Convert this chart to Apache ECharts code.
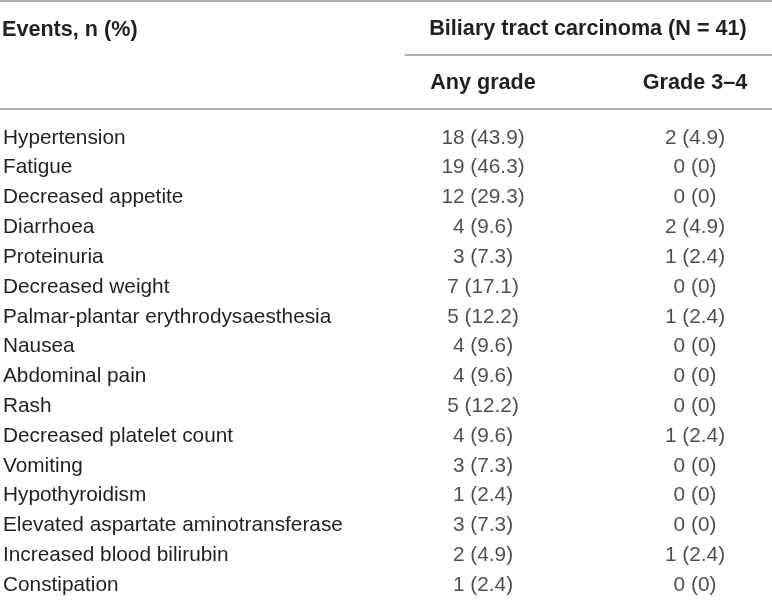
<!DOCTYPE html>
<html>
<head>
<meta charset="utf-8">
<script src="https://cdn.jsdelivr.net/npm/echarts@6/dist/echarts.min.js"></script>
<style>
  html, body { margin: 0; padding: 0; background: #fff; }
  #main { width: 772px; height: 600px; }
</style>
</head>
<body>
<div id="main"></div>
<script>
// table contents
const events = [
  'Hypertension', 'Fatigue', 'Decreased appetite', 'Diarrhoea', 'Proteinuria',
  'Decreased weight', 'Palmar-plantar erythrodysaesthesia', 'Nausea', 'Abdominal pain',
  'Rash', 'Decreased platelet count', 'Vomiting', 'Hypothyroidism',
  'Elevated aspartate aminotransferase', 'Increased blood bilirubin', 'Constipation'
]
const columns = ['Any grade', 'Grade 3–4']
const anyN = [18, 19, 12, 4, 3, 7, 5, 4, 4, 5, 4, 3, 1, 3, 2, 1]
const anyPct = [43.9, 46.3, 29.3, 9.6, 7.3, 17.1, 12.2, 9.6, 9.6, 12.2, 9.6, 7.3, 2.4, 7.3, 4.9, 2.4]
const g34N = [2, 0, 0, 2, 1, 0, 1, 0, 0, 0, 1, 0, 0, 0, 1, 0]
const g34Pct = [4.9, 0, 0, 4.9, 2.4, 0, 2.4, 0, 0, 0, 2.4, 0, 0, 0, 2.4, 0]
const rowHeader = 'Events, n (%)'
const groupHeader = 'Biliary tract carcinoma (N = 41)'

const FONT = '"Liberation Sans", Arial, sans-serif'
const INK = '#231f20'
const RULE = '#929292'
const BODY_SIZE = 20.8
const HEAD_SIZE = 21.6

function cell(n, p) {
  return n + ' (' + (p === 0 ? '0' : p.toFixed(1)) + ')'
}

function columnSeries(colName, ns, ps) {
  return {
    type: 'scatter',
    name: colName,
    symbolSize: 0,
    silent: true,
    data: events.map((e, i) => ({value: [colName, e], text: cell(ns[i], ps[i])})),
    label: {
      show: true,
      position: 'inside',
      formatter: p => p.data.text,
      color: INK,
      fontFamily: FONT,
      fontSize: BODY_SIZE
    }
  }
}

const chart = echarts.init(document.getElementById('main'))
chart.setOption({
  animation: false,
  backgroundColor: '#fff',
  grid: {left: 481, top: 123, width: 214, height: 480},
  xAxis: {
    type: 'category',
    data: columns,
    position: 'top',
    boundaryGap: false,
    axisLine: {show: false},
    axisTick: {show: false},
    splitLine: {show: false},
    axisLabel: {
      margin: 40,
      verticalAlign: 'middle',
      color: INK,
      fontFamily: FONT,
      fontSize: HEAD_SIZE,
      fontWeight: 'bold',
      interval: 0
    }
  },
  yAxis: {
    type: 'category',
    data: events,
    inverse: true,
    axisLine: {show: false},
    axisTick: {show: false},
    splitLine: {show: false},
    axisLabel: {
      align: 'left',
      margin: 480,
      color: INK,
      fontFamily: FONT,
      fontSize: BODY_SIZE,
      interval: 0
    }
  },
  series: [
    columnSeries(columns[0], anyN, anyPct),
    columnSeries(columns[1], g34N, g34Pct)
  ],
  graphic: [
    {type: 'line', shape: {x1: 0, y1: 1, x2: 772, y2: 1}, style: {stroke: RULE, lineWidth: 1.5}},
    {type: 'line', shape: {x1: 405, y1: 55, x2: 772, y2: 55}, style: {stroke: RULE, lineWidth: 1.5}},
    {type: 'line', shape: {x1: 0, y1: 109, x2: 772, y2: 109}, style: {stroke: RULE, lineWidth: 1.5}},
    {
      type: 'text', x: 2, y: 30,
      style: {text: rowHeader, fill: INK, font: 'bold ' + HEAD_SIZE + 'px ' + FONT, textVerticalAlign: 'middle'}
    },
    {
      type: 'text', x: 588, y: 29,
      style: {text: groupHeader, fill: INK, font: 'bold ' + HEAD_SIZE + 'px ' + FONT, textAlign: 'center', textVerticalAlign: 'middle'}
    }
  ]
})
</script>
</body>
</html>
